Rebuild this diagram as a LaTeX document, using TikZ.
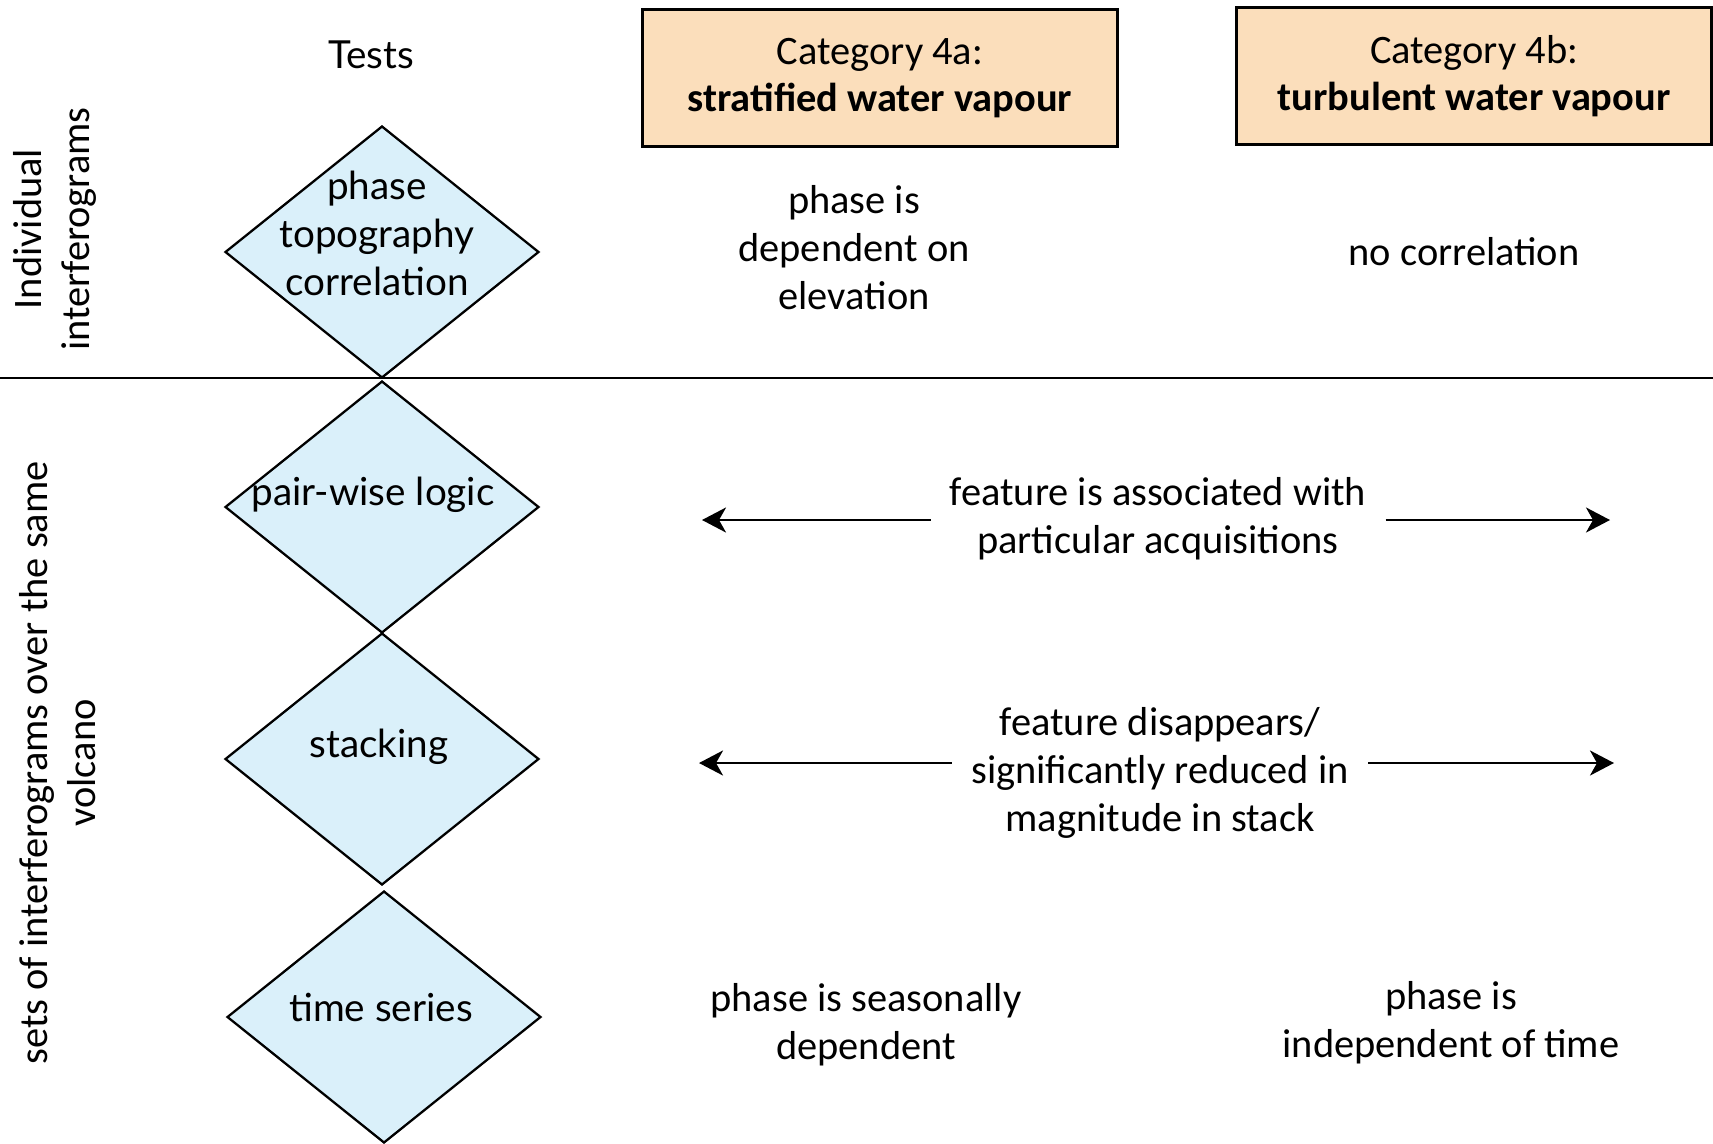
\documentclass[tikz,border=0pt]{standalone}
\usepackage{fontspec}
\setmainfont{Carlito}
\newfontfamily\testfont{Lato}
\usepackage{tikz}
\usetikzlibrary{shapes.geometric}
\usetikzlibrary{arrows.meta}
\definecolor{peach}{RGB}{251,222,187}
\definecolor{paleblue}{RGB}{218,240,250}
\tikzstyle{cat}=[draw, line width=1.7pt, fill=peach, minimum width=9.5cm, minimum height=2.76cm, align=center, font=\fontsize{23}{26.8}\selectfont]
\tikzstyle{test}=[diamond, draw, line width=1.3pt, fill=paleblue, minimum width=6.28cm, minimum height=5.04cm, inner sep=0pt]
\tikzstyle{ttxt}=[font=\testfont\fontsize{22}{27.3}\selectfont, align=center]
\tikzstyle{txt}=[font=\fontsize{23}{27.3}\selectfont, align=center, inner sep=0.38cm]
\tikzstyle{side}=[txt, rotate=90, inner sep=0pt]
\tikzstyle{arr}=[->, line width=1.5pt]

\begin{document}
\begin{tikzpicture}[x=0.02cm,y=-0.02cm,>={Stealth[length=0.48cm,width=0.5cm,inset=0.14cm]}]
    \useasboundingbox (0,0) rectangle (1713,1143);
    % headings
    \node [ttxt] (tests) at (371,55) {Tests};
    \node [cat] (c4a) at (880,78) {Category 4a:\\\textbf{stratified water vapour}};
    \node [cat] (c4b) at (1474,76) {Category 4b:\\\textbf{turbulent water vapour}};
    \node [side] (ind) at (55,229) {Individual\\interferograms};
    \node [side] (sets) at (58,763) {sets of interferograms over the same\\volcano};
    % divider
    \coordinate (dl) at (0,378);
    \coordinate (dr) at (1713,378);
    \draw [line width=0.6pt] (dl) -- (dr);
    % tests
    \node [test] (d1) at (382,252) {};
    \node [test] (d2) at (382,507) {};
    \node [test] (d3) at (382,759) {};
    \node [test] (d4) at (384,1017) {};
    \node [ttxt] (t1) at (377,233) {phase\\topography\\correlation};
    \node [ttxt] (t2) at (373,495) {pair-wise logic};
    \node [ttxt] (t3) at (379,747) {stacking};
    \node [ttxt] (t4) at (381,1007) {time series};
    % outcomes
    \node [txt] (r1a) at (854,248) {phase is\\dependent on\\elevation};
    \node [txt] (r1b) at (1464,252) {no correlation};
    \node [txt] (r2) at (1158,519) {feature is associated with\\particular acquisitions};
    \node [txt] (r3) at (1160,773) {feature disappears/\\significantly reduced in\\magnitude in stack};
    \node [txt] (r4a) at (866,1025) {phase is seasonally\\dependent};
    \node [txt] (r4b) at (1451,1023) {phase is\\independent of time};
    \coordinate (r2l) at (702,520);
    \coordinate (r2r) at (1610,520);
    \coordinate (r3l) at (699,763);
    \coordinate (r3r) at (1614,763);
    \draw [arr] (r2.west |- r2l) -- (r2l);
    \draw [arr] (r2.east |- r2r) -- (r2r);
    \draw [arr] (r3.west |- r3l) -- (r3l);
    \draw [arr] (r3.east |- r3r) -- (r3r);
\end{tikzpicture}
\end{document}
